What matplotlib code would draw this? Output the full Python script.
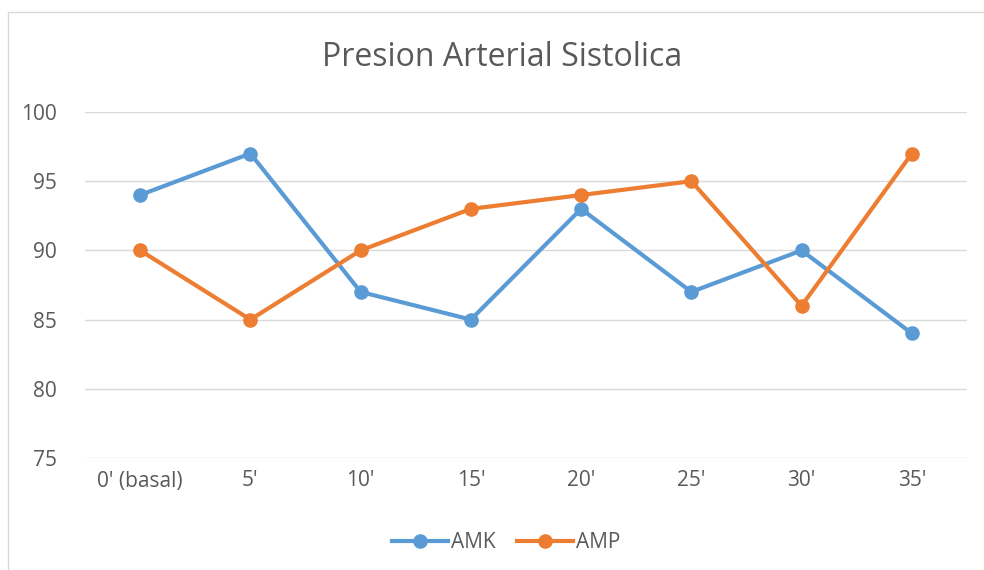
import matplotlib.pyplot as plt
from matplotlib.patches import Rectangle

categories = ["0' (basal)", "5'", "10'", "15'", "20'", "25'", "30'", "35'"]
amk = [94, 97, 87, 85, 93, 87, 90, 84]
amp = [90, 85, 90, 93, 94, 95, 86, 97]
yticks = [75, 80, 85, 90, 95, 100]

plt.rcParams['font.family'] = ['Open Sans', 'DejaVu Sans']
txt = '#595959'

fig = plt.figure(figsize=(9.84, 5.70), dpi=100)
fig.patches.append(Rectangle((8 / 984, -0.01), 1.0, 1 - 12 / 570 + 0.01, transform=fig.transFigure,
                             fill=False, edgecolor='#D9D9D9', linewidth=1))
ax = fig.add_axes([85 / 984, 1 - 458 / 570, 882 / 984, 346 / 570])

x = range(len(categories))
ax.plot(x, amk, color='#5B9BD5', lw=3, marker='o', ms=9.5, label='AMK', zorder=3)
ax.plot(x, amp, color='#ED7D31', lw=3, marker='o', ms=9.5, label='AMP', zorder=3)

ax.set_xlim(-0.5, len(categories) - 0.5)
ax.set_ylim(75, 100)
ax.set_yticks(yticks)
ax.set_xticks(list(x))
ax.set_xticklabels(categories)
ax.grid(axis='y', color='#D9D9D9', lw=1)
ax.set_axisbelow(True)
for s in ax.spines.values():
    s.set_visible(False)
ax.tick_params(length=0, labelsize=15, colors=txt, pad=9)
ax.tick_params(axis='y', pad=20)

fig.text(502 / 984, 1 - 57 / 570, 'Presion Arterial Sistolica', ha='center', va='center',
         fontsize=23, color=txt)
fig.legend(loc='center', bbox_to_anchor=(506 / 984, 1 - 543 / 570), ncol=2, frameon=False,
           fontsize=15, labelcolor=txt, handlelength=2.7, columnspacing=1.0, handletextpad=0.15)

fig.savefig('out.png', dpi=100)
